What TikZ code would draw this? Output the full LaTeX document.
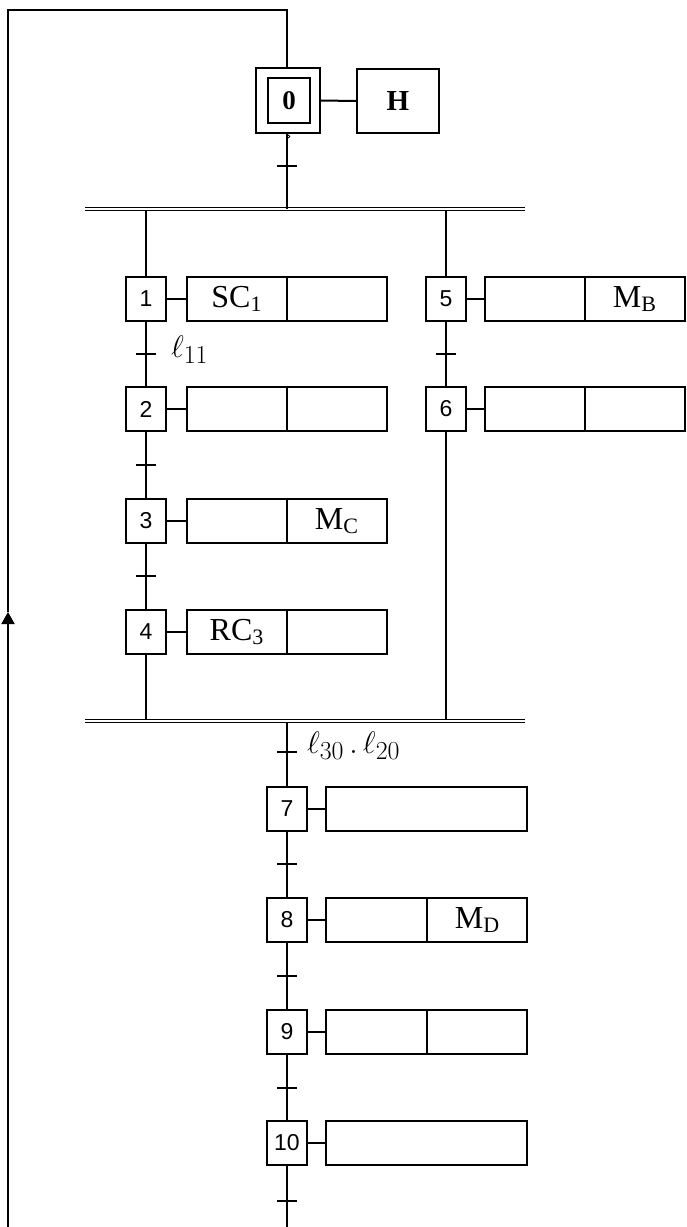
\documentclass[tikz,border=0pt]{standalone}
\usepackage{fontspec}
\setmainfont{Liberation Serif}
\newfontfamily\stepsans{Liberation Sans}
\usetikzlibrary{arrows.meta}
\newcommand\lowsub[1]{\raisebox{-4.5pt}{\fontsize{22}{22}\selectfont #1}}
\begin{document}
\begin{tikzpicture}[x=1pt,y=-1pt,line width=2pt,
  stepbox/.style={draw, minimum width=40pt, minimum height=44pt, inner sep=0pt, font=\stepsans\fontsize{23}{23}\selectfont},
  actbox/.style={draw, minimum width=100pt, minimum height=44pt, inner sep=0pt, font=\fontsize{32}{32}\selectfont},
  lab/.style={anchor=west, inner sep=0pt, font=\fontsize{28}{28}\selectfont},
  bar/.style={double, double distance=2.4pt, line width=1.2pt}
]
\useasboundingbox (0,0) rectangle (686,1227);
% ---- step 0 and its action
\node[draw, minimum width=64pt, minimum height=65pt, inner sep=0pt] (s0) at (288,100.5) {};
\node[draw, line width=2.4pt, minimum width=42pt, minimum height=45pt, inner sep=0pt, font=\bfseries\fontsize{27}{27}\selectfont] (s0i) at (289,100.5) {0};
\node[draw, minimum width=82pt, minimum height=64pt, inner sep=0pt, font=\bfseries\fontsize{29}{29}\selectfont] (h) at (398,101) {H};
\draw (s0.east) -- (h.west);
\draw[line width=0.6pt] (288.5,136.5) circle (1.4pt);
% ---- left branch
\node[stepbox] (s1) at (146,299) {1};
\node[actbox] (a1l) at (236.5,299) {SC\lowsub{1}};
\node[actbox] (a1r) at (336.5,299) {};
\node[stepbox] (s2) at (146,409) {2};
\node[actbox] (a2l) at (236.5,409) {};
\node[actbox] (a2r) at (336.5,409) {};
\node[stepbox] (s3) at (146,521) {3};
\node[actbox] (a3l) at (236.5,521) {};
\node[actbox] (a3r) at (336.5,521) {M\lowsub{C}};
\node[stepbox] (s4) at (146,632) {4};
\node[actbox] (a4l) at (236.5,632) {RC\lowsub{3}};
\node[actbox] (a4r) at (336.5,632) {};
% ---- right branch
\node[stepbox] (s5) at (446,299) {5};
\node[actbox] (a5l) at (535,299) {};
\node[actbox] (a5r) at (634.5,299) {M\lowsub{B}};
\node[stepbox] (s6) at (446,409) {6};
\node[actbox] (a6l) at (535,409) {};
\node[actbox] (a6r) at (634.5,409) {};
% ---- main sequence
\node[stepbox] (s7) at (287,809) {7};
\node[actbox, minimum width=201pt] (a7) at (426.5,809) {};
\node[stepbox] (s8) at (287,920) {8};
\node[actbox, minimum width=101pt] (a8l) at (376.5,920) {};
\node[actbox] (a8r) at (477,920) {M\lowsub{D}};
\node[stepbox] (s9) at (287,1032) {9};
\node[actbox, minimum width=101pt] (a9l) at (376.5,1032) {};
\node[actbox] (a9r) at (477,1032) {};
\node[stepbox] (s10) at (287,1143) {10};
\node[actbox, minimum width=201pt] (a10) at (426.5,1143) {};
% step to action links
\foreach \s/\a in {s1/a1l,s2/a2l,s3/a3l,s4/a4l,s5/a5l,s6/a6l,s7/a7,s8/a8l,s9/a9l,s10/a10}
  \draw (\s.east) -- (\a.west);
% ---- parallel bars
\coordinate (b1w) at (85,209);
\coordinate (b1e) at (525,209);
\coordinate (b2w) at (85,721);
\coordinate (b2e) at (525,721);
\draw[bar] (b1w) -- (b1e);
\draw[bar] (b2w) -- (b2e);
% ---- vertical links
\coordinate (mainTop) at (287,10);
\draw (mainTop |- s0.south) -- (mainTop |- b1w);
\draw (s1.north) -- ([yshift=-2pt]s1.north |- b1w);
\draw (s5.north) -- ([yshift=-2pt]s5.north |- b1w);
\draw (s1.south) -- (s2.north);
\draw (s2.south) -- (s3.north);
\draw (s3.south) -- (s4.north);
\draw (s4.south) -- ([yshift=2pt]s4.south |- b2w);
\draw (s5.south) -- (s6.north);
\draw (s6.south) -- ([yshift=2pt]s6.south |- b2w);
\draw ([yshift=-2pt]s7.north |- b2w) -- (s7.north);
\draw (s7.south) -- (s8.north);
\draw (s8.south) -- (s9.north);
\draw (s9.south) -- (s10.north);
\coordinate (endB) at (287,1227);
\draw (s10.south) -- (endB);
% ---- transition ticks
\foreach \x/\y in {287/166, 146/354, 146/465, 146/576, 446/354, 287/752, 287/864, 287/976, 287/1088, 287/1201}{
  \coordinate (t) at (\x,\y);
  \draw ([xshift=-10pt]t) -- ([xshift=10pt]t);
}
% ---- receptivities
\node[lab] (r11) at (170,350) {\scalebox{1.25}{$\ell_{11}$}};
\node[lab] (r3020) at (306,746) {\scalebox{1.25}{$\ell_{30}\,.\,\ell_{20}$}};
% ---- loop back
\coordinate (loopL) at (8,10);
\coordinate (loopB) at (8,1227);
\coordinate (arrTip) at (8,612);
\draw[-{Triangle[length=12pt,width=13pt]}] (loopB) -- (arrTip);
\draw (arrTip) -- (loopL) -- (mainTop) -- (mainTop |- s0.north);
\end{tikzpicture}
\end{document}
